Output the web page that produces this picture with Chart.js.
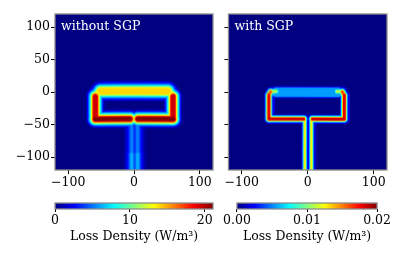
<!DOCTYPE html>
<html>
<head>
<meta charset="utf-8">
<script src="https://cdn.jsdelivr.net/npm/chart.js"></script>
<style>
  html, body { margin: 0; padding: 0; background: #fff; width: 416px; height: 262px; overflow: hidden; }
  .box { position: absolute; }
</style>
</head>
<body>
<div class="box" style="left:0;top:0;width:218px;height:196px"><canvas id="mapA"></canvas></div>
<div class="box" style="left:222px;top:0;width:170px;height:196px"><canvas id="mapB"></canvas></div>
<div class="box" style="left:0;top:196px;width:218px;height:66px"><canvas id="barA"></canvas></div>
<div class="box" style="left:222px;top:196px;width:170px;height:66px"><canvas id="barB"></canvas></div>
<script>
// axes
const xTicks = [-100, 0, 100];
const yTicks = [-100, -50, 0, 50, 100];
const axisMin = -120;
const axisMax = 120;
const gridStep = 1.5;

const falloff = [1, 0.9, 0.75, 0.6, 0.47, 0.36, 0.27, 0.19, 0.12, 0.05, 0];

// strips of loss: [x1, y1, x2, y2, peak, half core, spread]
const stripsNoSgp = [
  [-50, 2, 52, 2, 14, 4.5, 12],
  [-58, -6, -51, 2.5, 13, 3, 12],
  [60, -6, 53, 2.5, 13, 3, 12],
  [-58, -6, -58, -41, 19.5, 2.5, 12],
  [60, -6, 60, -41, 19.5, 2.5, 12],
  [-58, -41, -5, -41, 21, 2.5, 12],
  [7, -41, 60, -41, 21, 2.5, 12],
  [-2.5, -46, -2.5, -95, 5.5, 0.5, 13],
  [6.5, -46, 6.5, -95, 5.5, 0.5, 13],
  [-2.5, -95, -2.5, -120, 6.5, 0.5, 13],
  [6.5, -95, 6.5, -120, 6.5, 0.5, 13]
];
const stripsSgp = [
  [-47, 0, 47, 0, 0.0056, 6.5, 3.5],
  [-58, -4, -55, 1, 0.016, 1.5, 6],
  [-55, 1, -47, 1.5, 0.011, 1.5, 6],
  [56, -4, 53, 1, 0.016, 1.5, 6],
  [53, 1, 45, 1.5, 0.011, 1.5, 6],
  [-58, -4, -58, -41, 0.018, 1.5, 6],
  [56, -4, 56, -41, 0.018, 1.5, 6],
  [-58, -41, -5, -41, 0.0185, 1.5, 6],
  [8, -41, 56, -41, 0.0185, 1.5, 6],
  [-3.5, -43, -3.5, -120, 0.0128, 0.8, 5],
  [6.5, -43, 6.5, -120, 0.0128, 0.8, 5]
];
const seamX = [-38, 1, 40];
const seamY = [-8, 8.5];

// colour bars
const cbTicksA = [0, 10, 20];
const cbMaxA = 21.1;
const cbTicksB = [0, 0.01, 0.02];
const cbMaxB = 0.02;

const serif = 'DejaVu Serif';
Chart.defaults.font.family = serif;
Chart.defaults.color = '#000';

function jet(t) {
  t = Math.max(0, Math.min(1, t));
  const c = k => Math.round(255 * Math.max(0, Math.min(1, 1.5 - Math.abs(4 * t - k))));
  return 'rgb(' + c(3) + ',' + c(2) + ',' + c(1) + ')';
}

function segDist(px, py, s) {
  const dx = s[2] - s[0], dy = s[3] - s[1];
  const len2 = dx * dx + dy * dy;
  let t = len2 ? ((px - s[0]) * dx + (py - s[1]) * dy) / len2 : 0;
  t = Math.max(0, Math.min(1, t));
  const qx = s[0] + t * dx - px, qy = s[1] + t * dy - py;
  return Math.sqrt(qx * qx + qy * qy);
}

function lookup(u) {
  if (u >= 1) return 0;
  const f = u * (falloff.length - 1), i = Math.floor(f), r = f - i;
  return falloff[i] * (1 - r) + falloff[i + 1] * r;
}

function buildCells(strips, vmax) {
  const pts = [], cols = [];
  for (let x = axisMin + gridStep / 2; x < axisMax; x += gridStep) {
    for (let y = axisMin + gridStep / 2; y < axisMax; y += gridStep) {
      let v = 0;
      for (const s of strips) {
        const d = Math.max(0, segDist(x, y, s) - s[5]);
        v = Math.max(v, s[4] * lookup(d / s[6]));
      }
      if (v < vmax * 0.004) continue;
      pts.push({ x: x, y: y });
      cols.push(jet(v / vmax));
    }
  }
  return { pts, cols };
}

const minus = v => (v < 0 ? '\u2212' + (-v) : '' + v);

const framePlugin = {
  id: 'frame',
  beforeDatasetsDraw(chart, args, opts) {
    if (!opts.fill) return;
    const a = chart.chartArea, ctx = chart.ctx;
    ctx.save();
    ctx.fillStyle = opts.fill;
    ctx.fillRect(a.left, a.top, a.right - a.left, a.bottom - a.top);
    ctx.restore();
  },
  afterDraw(chart, args, opts) {
    const a = chart.chartArea, ctx = chart.ctx;
    ctx.save();
    ctx.strokeStyle = '#8c8c8c';
    ctx.lineWidth = 1.3;
    ctx.strokeRect(a.left, a.top, a.right - a.left, a.bottom - a.top);
    if (opts.label) {
      ctx.fillStyle = '#fff';
      ctx.font = '12.5px "' + serif + '"';
      ctx.textBaseline = 'alphabetic';
      ctx.fillText(opts.label, a.left + 6, a.top + 16);
    }
    ctx.restore();
  }
};

function mapChart(id, strips, vmax, label, showYLabels, yWidth, padRight, seams) {
  const cells = buildCells(strips, vmax);
  const datasets = [{
    type: 'scatter',
    data: cells.pts,
    backgroundColor: cells.cols,
    pointStyle: 'rect',
    pointRadius: 1.35,
    pointBorderWidth: 0,
    clip: 0
  }];
  if (seams) {
    seamX.forEach(x => datasets.push({
      type: 'line',
      data: [{ x: x, y: seamY[0] }, { x: x, y: seamY[1] }],
      borderColor: 'rgba(255,255,255,0.4)',
      borderWidth: 1,
      pointRadius: 0,
      clip: 0
    }));
  }
  new Chart(document.getElementById(id), {
    type: 'scatter',
    data: { datasets },
    plugins: [framePlugin],
    options: {
      animation: false,
      responsive: true,
      maintainAspectRatio: false,
      events: [],
      layout: { padding: { top: 14, right: padRight, left: 0, bottom: 0 } },
      plugins: { legend: { display: false }, tooltip: { enabled: false }, frame: { fill: '#000080', label: label } },
      scales: {
        x: {
          type: 'linear', min: axisMin, max: axisMax,
          afterBuildTicks: ax => { ax.ticks = xTicks.map(v => ({ value: v })); },
          afterFit: ax => { ax.height = 26; },
          ticks: { callback: minus, font: { size: 12.5 }, padding: 1, maxRotation: 0, autoSkip: false },
          grid: { drawOnChartArea: false, tickLength: 4, color: '#000' },
          border: { display: false }
        },
        y: {
          type: 'linear', min: axisMin, max: axisMax,
          afterBuildTicks: ax => { ax.ticks = yTicks.map(v => ({ value: v })); },
          afterFit: ax => { ax.width = yWidth; },
          ticks: { callback: v => (showYLabels ? minus(v) : ''), font: { size: 12.5 }, padding: 1, autoSkip: false },
          grid: { drawOnChartArea: false, tickLength: 4, color: '#000' },
          border: { display: false }
        }
      }
    }
  });
}

function colorBar(id, ticks, vmax, fmt, padLeft) {
  new Chart(document.getElementById(id), {
    type: 'bar',
    data: {
      labels: [''],
      datasets: [{
        data: [[0, vmax]],
        backgroundColor: c => {
          const a = c.chart.chartArea;
          if (!a) return jet(0.5);
          const g = c.chart.ctx.createLinearGradient(a.left, 0, a.right, 0);
          for (let i = 0; i <= 16; i++) g.addColorStop(i / 16, jet(i / 16));
          return g;
        },
        borderWidth: 0,
        barPercentage: 1,
        categoryPercentage: 1
      }]
    },
    plugins: [framePlugin],
    options: {
      indexAxis: 'y',
      animation: false,
      responsive: true,
      maintainAspectRatio: false,
      events: [],
      layout: { padding: { left: padLeft, right: 5, top: 7, bottom: 0 } },
      plugins: { legend: { display: false }, tooltip: { enabled: false }, frame: {} },
      scales: {
        y: { display: false },
        x: {
          type: 'linear', min: 0, max: vmax,
          afterBuildTicks: ax => { ax.ticks = ticks.map(v => ({ value: v })); },
          afterFit: ax => { ax.height = 53; },
          ticks: { callback: fmt, font: { size: 12.5 }, padding: 1, maxRotation: 0, autoSkip: false },
          grid: { drawOnChartArea: false, tickLength: 3, color: '#000' },
          border: { display: false },
          title: { display: true, text: 'Loss Density (W/m\u00b3)', font: { size: 12.5 }, padding: { top: 0, bottom: 18 } }
        }
      }
    }
  });
}

mapChart('mapA', stripsNoSgp, cbMaxA, 'without SGP', true, 55, 5, false);
mapChart('mapB', stripsSgp, cbMaxB, 'with SGP', false, 6.5, 5, true);
colorBar('barA', cbTicksA, cbMaxA, v => '' + v, 55);
colorBar('barB', cbTicksB, cbMaxB, v => v.toFixed(2), 7);
</script>
</body>
</html>
